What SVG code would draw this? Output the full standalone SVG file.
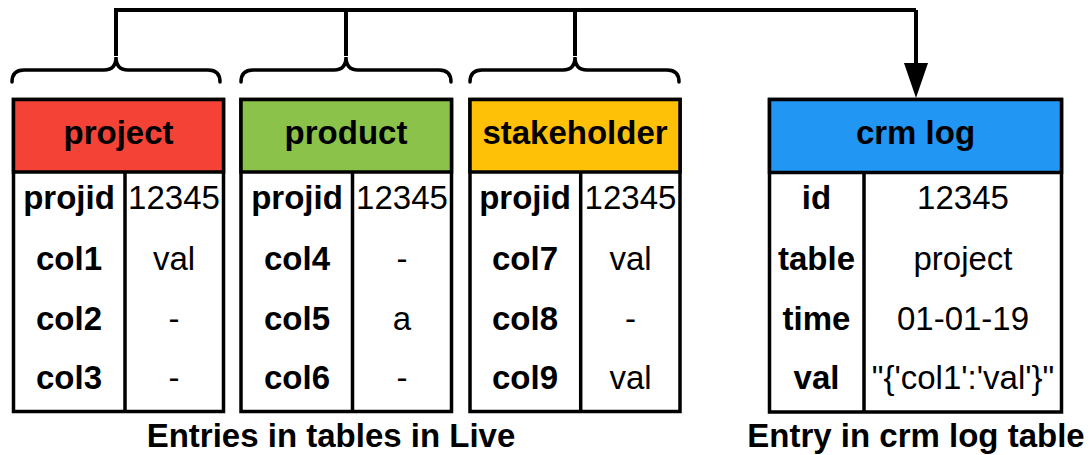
<svg xmlns="http://www.w3.org/2000/svg" width="1091" height="455" viewBox="0 0 1091 455">
  <style>
    .box { fill: #ffffff; stroke: #000000; stroke-width: 3.5; }
    .hdr { stroke: #000000; stroke-width: 3.5; }
    .rule { stroke: #000000; stroke-width: 3.5; fill: none; }
    .wire { stroke: #000000; stroke-width: 4; fill: none; }
    .brace { stroke: #000000; stroke-width: 3.5; fill: none; stroke-linecap: round; }
    text { font-family: "Liberation Sans", Arial, sans-serif; font-size: 33px; fill: #000000; text-anchor: middle; }
    .b { font-weight: bold; }
  </style>

  <!-- connectors: braces gathering the three live tables into the log entry -->
  <g id="connectors">
    <path class="brace" d="M12,82 Q12,70 24,70 L104,70 Q116,70 116,57 Q116,70 128,70 L208,70 Q220,70 220,82"/>
    <path class="brace" d="M241,82 Q241,70 253,70 L334,70 Q346,70 346,57 Q346,70 358,70 L439,70 Q451,70 451,82"/>
    <path class="brace" d="M470,82 Q470,70 482,70 L563,70 Q575,70 575,57 Q575,70 587,70 L667,70 Q679,70 679,82"/>
    <path class="wire" d="M116,56 L116,10 L916,10"/>
    <path class="wire" d="M346,56 L346,10"/>
    <path class="wire" d="M575,56 L575,10"/>
    <path class="wire" d="M916,10 L916,74"/>
    <path d="M904,63 L928,63 L916,98 Z" fill="#000000"/>
  </g>

  <!-- project table -->
  <g id="project">
    <rect class="box" x="13.5" y="99.5" width="210" height="312"/>
    <rect class="hdr" x="13.5" y="99.5" width="210" height="72.5" fill="#F44336"/>
    <line class="rule" x1="125" y1="172" x2="125" y2="411.5"/>
    <text class="b" x="118.5" y="144">project</text>
    <text class="b" x="69" y="209">projid</text><text x="174" y="209">12345</text>
    <text class="b" x="69" y="270">col1</text><text x="174" y="270">val</text>
    <text class="b" x="69" y="330">col2</text><text x="174" y="330">-</text>
    <text class="b" x="69" y="389">col3</text><text x="174" y="389">-</text>
  </g>

  <!-- product table -->
  <g id="product">
    <rect class="box" x="241" y="99.5" width="210.5" height="312"/>
    <rect class="hdr" x="241" y="99.5" width="210.5" height="72.5" fill="#8BC34A"/>
    <line class="rule" x1="352.5" y1="172" x2="352.5" y2="411.5"/>
    <text class="b" x="346" y="144">product</text>
    <text class="b" x="297" y="209">projid</text><text x="402" y="209">12345</text>
    <text class="b" x="297" y="270">col4</text><text x="402" y="270">-</text>
    <text class="b" x="297" y="330">col5</text><text x="402" y="330">a</text>
    <text class="b" x="297" y="389">col6</text><text x="402" y="389">-</text>
  </g>

  <!-- stakeholder table -->
  <g id="stakeholder">
    <rect class="box" x="470" y="99.5" width="210" height="312"/>
    <rect class="hdr" x="470" y="99.5" width="210" height="72.5" fill="#FFC107"/>
    <line class="rule" x1="580.7" y1="172" x2="580.7" y2="411.5"/>
    <text class="b" x="575" y="144">stakeholder</text>
    <text class="b" x="525" y="209">projid</text><text x="630.5" y="209">12345</text>
    <text class="b" x="525" y="270">col7</text><text x="630.5" y="270">val</text>
    <text class="b" x="525" y="330">col8</text><text x="630.5" y="330">-</text>
    <text class="b" x="525" y="389">col9</text><text x="630.5" y="389">val</text>
  </g>

  <!-- crm log table -->
  <g id="crm-log">
    <rect class="box" x="769.5" y="99.5" width="292" height="312.5"/>
    <rect class="hdr" x="769.5" y="99.5" width="292" height="73" fill="#2196F3"/>
    <line class="rule" x1="864" y1="172.5" x2="864" y2="412"/>
    <text class="b" x="915.5" y="144">crm log</text>
    <text class="b" x="816.5" y="209">id</text><text x="963" y="209">12345</text>
    <text class="b" x="816.5" y="270">table</text><text x="963" y="270">project</text>
    <text class="b" x="816.5" y="330">time</text><text x="963" y="330">01-01-19</text>
    <text class="b" x="816.5" y="389">val</text><text x="963" y="389">"{'col1':'val'}"</text>
  </g>

  <!-- captions -->
  <g id="captions">
    <text class="b" x="331" y="447">Entries in tables in Live</text>
    <text class="b" x="916" y="447">Entry in crm log table</text>
  </g>
</svg>
